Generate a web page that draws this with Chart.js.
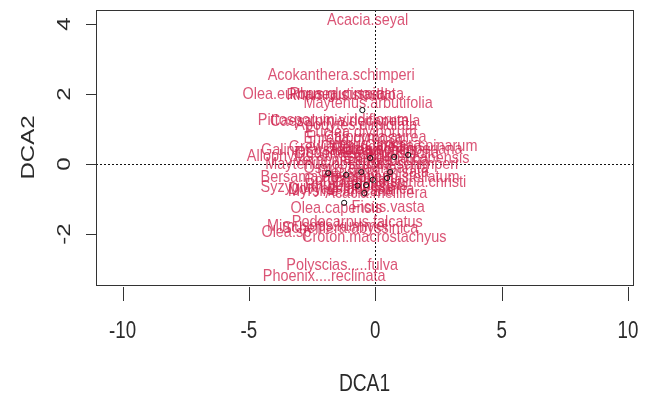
<!DOCTYPE html>
<html>
<head>
<meta charset="utf-8">
<script src="https://cdn.jsdelivr.net/npm/chart.js@4.4.1/dist/chart.umd.min.js"></script>
<style>
  html, body { margin: 0; padding: 0; background: #ffffff; }
  #wrap { width: 649px; height: 396px; }
</style>
</head>
<body>
<div id="wrap"><canvas id="dca" width="649" height="396"></canvas></div>
<script>
// Site scores on the first two DCA axes
const siteX = [-0.51, 0.75, 1.30, -0.20, -1.86, -0.55, 0.59, 0.47, -1.15, -0.36, -0.43, -1.23, -0.10, -0.70];
const siteY = [1.54, 0.20, 0.26, 0.17, -0.26, -0.23, -0.23, -0.40, -0.31, -0.60, -0.83, -1.11, -0.45, -0.62];

// Species scores (labels are centred on these)
const species = [
  "Acacia.seyal", "Acokanthera.schimperi", "Olea.europaea.cuspidata", "Rhus.glutinosa",
  "Rhamnus.staddo", "Maytenus.arbutifolia", "Pittosporum.viridiflorum", "Caesalpinia.decapetala",
  "Apodytes.dimidiata", "Euclea.divinorum", "Calpurnia.aurea", "Ehretia.cymosa",
  "Galiniera.saxifraga", "Grewia.ferruginea", "Albizia.schimperiana", "Carissa.spinarum",
  "Juniperus.procera", "Teclea.nobilis", "Dodonaea.angustifolia", "Allophylus.abyssinicus",
  "Ekebergia.capensis", "Vernonia.amygdalina", "Maytenus.obscura", "Euclea.schimperi",
  "Osyris.quadripartita", "Clausena.anisata", "Bersama.abyssinica", "Pterolobium.stellatum",
  "Cordia.africana", "Ziziphus.spina.christi", "Rhus.natalensis", "Syzygium.guineense",
  "Dovyalis.abyssinica", "Myrsine.africana", "Acacia.mellifera", "Olea.capensis",
  "Ficus.vasta", "Podocarpus.falcatus", "Mimusops.kummel", "Schefflera.abyssinica",
  "Olea.sp", "Croton.macrostachyus", "Polyscias.....fulva", "Phoenix....reclinata"
];
const spX = [
  -0.30, -1.35, -2.06, -1.50,
  -1.35, -0.28, -1.66, -1.19,
  -0.75, -0.55, 0.00, -0.87,
  -2.14, -1.15, 0.83, 1.82,
  -0.47, -0.08, -0.32, -2.22,
  1.23, -0.55, -2.02, 1.11,
  -0.36, -0.08, -1.98, 0.59,
  -0.87, 0.95, -0.75, -1.90,
  -0.95, -1.35, 0.04, -1.54,
  0.51, -0.71, -1.90, -0.99,
  -3.52, -0.04, -1.31, -2.02
];
const spY = [
  4.11, 2.54, 2.00, 2.00,
  1.97, 1.74, 1.26, 1.23,
  1.11, 0.91, 0.77, 0.74,
  0.40, 0.49, 0.43, 0.51,
  0.57, 0.40, 0.31, 0.23,
  0.17, 0.11, 0.00, 0.00,
  -0.11, -0.23, -0.37, -0.37,
  -0.46, -0.51, -0.60, -0.66,
  -0.71, -0.77, -0.83, -1.26,
  -1.23, -1.66, -1.77, -1.83,
  -1.94, -2.09, -2.89, -3.20
];

// Axis ticks and ranges
const xTicks = [-10, -5, 0, 5, 10];
const yTicks = [-2, 0, 2, 4];
const xRange = [-11.05, 10.2];
const yRange = [-3.457, 4.4];

const INK = '#2a2a2a';
const LABEL_RED = 'rgba(208, 36, 78, 0.78)';
const FONT = '"Liberation Sans", Arial, sans-serif';

function squeezedText(ctx, txt, x, y, sx, rot) {
  ctx.save();
  ctx.translate(x, y);
  ctx.scale(sx, 1);
  if (rot) ctx.rotate(rot);
  ctx.fillText(txt, 0, 0);
  ctx.restore();
}

const ordiPlot = {
  id: 'ordiPlot',
  beforeDatasetsDraw(chart) {
    const { ctx, chartArea: a, scales: { x, y } } = chart;
    // dotted reference lines through the origin
    ctx.save();
    ctx.strokeStyle = '#111111';
    ctx.lineWidth = 1;
    ctx.setLineDash([2, 2]);
    const x0 = Math.round(x.getPixelForValue(0)) + 0.5;
    const y0 = Math.round(y.getPixelForValue(0)) + 0.5;
    ctx.beginPath();
    ctx.moveTo(x0, a.top); ctx.lineTo(x0, a.bottom);
    ctx.moveTo(a.left, y0); ctx.lineTo(a.right, y0);
    ctx.stroke();
    ctx.restore();

    // species names
    const meta = chart.getDatasetMeta(1);
    ctx.save();
    ctx.fillStyle = LABEL_RED;
    ctx.font = '17px ' + FONT;
    ctx.textAlign = 'center';
    ctx.textBaseline = 'middle';
    meta.data.forEach((pt, i) => {
      squeezedText(ctx, species[i], pt.x, pt.y, 0.85, 0);
    });
    ctx.restore();
  },
  afterDraw(chart) {
    const { ctx, chartArea: a, scales: { x, y } } = chart;
    ctx.save();
    ctx.strokeStyle = '#333333';
    ctx.lineWidth = 1;
    ctx.setLineDash([]);
    ctx.strokeRect(Math.round(a.left) + 0.5, Math.round(a.top) + 0.5,
                   Math.round(a.right - a.left), Math.round(a.bottom - a.top));

    // tick marks
    ctx.beginPath();
    xTicks.forEach(v => {
      const px = Math.round(x.getPixelForValue(v)) + 0.5;
      ctx.moveTo(px, a.bottom + 2); ctx.lineTo(px, a.bottom + 16);
    });
    yTicks.forEach(v => {
      const py = Math.round(y.getPixelForValue(v)) + 0.5;
      ctx.moveTo(a.left - 10, py); ctx.lineTo(a.left, py);
    });
    ctx.stroke();

    // tick labels
    ctx.fillStyle = INK;
    ctx.font = '24px ' + FONT;
    ctx.textAlign = 'center';
    ctx.textBaseline = 'middle';
    xTicks.forEach(v => {
      squeezedText(ctx, String(v), x.getPixelForValue(v), 331, 0.78, 0);
    });
    yTicks.forEach(v => {
      squeezedText(ctx, String(v), 65, y.getPixelForValue(v), 0.78, -Math.PI / 2);
    });

    // axis titles
    squeezedText(ctx, 'DCA1', (a.left + a.right) / 2, 384, 0.8, 0);
    squeezedText(ctx, 'DCA2', 29, (a.top + a.bottom) / 2, 0.8, -Math.PI / 2);
    ctx.restore();
  }
};

new Chart(document.getElementById('dca'), {
  type: 'scatter',
  data: {
    datasets: [
      {
        label: 'sites',
        data: siteX.map((v, i) => ({ x: v, y: siteY[i] })),
        pointStyle: 'circle',
        pointRadius: 2.6,
        pointBorderWidth: 1,
        pointBorderColor: '#111111',
        pointBackgroundColor: 'rgba(255,255,255,0)'
      },
      {
        label: 'species',
        data: spX.map((v, i) => ({ x: v, y: spY[i] })),
        pointRadius: 0,
        pointHoverRadius: 0
      }
    ]
  },
  options: {
    responsive: false,
    animation: false,
    devicePixelRatio: 1,
    layout: { padding: { left: 96, right: 16, top: 10, bottom: 111 } },
    plugins: { legend: { display: false }, tooltip: { enabled: false } },
    scales: {
      x: {
        type: 'linear', min: xRange[0], max: xRange[1], display: false
      },
      y: {
        type: 'linear', min: yRange[0], max: yRange[1], display: false
      }
    }
  },
  plugins: [ordiPlot]
});
</script>
</body>
</html>
